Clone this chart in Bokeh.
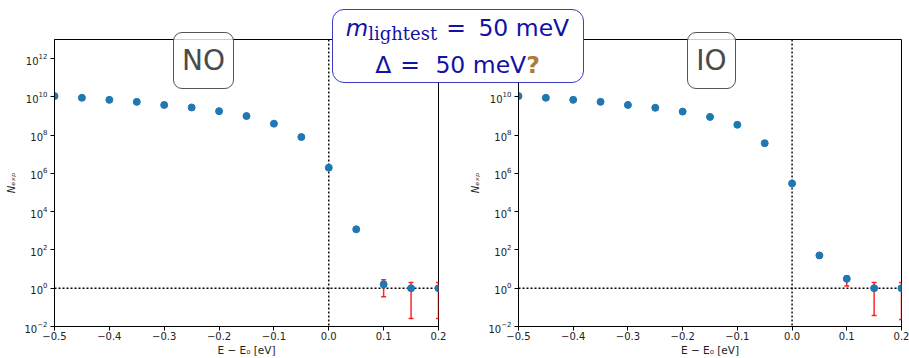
from bokeh.plotting import figure
from bokeh.models import (FixedTicker, CustomJSTickFormatter, Span, Div,
                          ColumnDataSource, Range1d)
from bokeh.layouts import row
from bokeh.embed import file_html
from bokeh.resources import INLINE

# ---------------- data ----------------
energy = [-0.5, -0.45, -0.4, -0.35, -0.3, -0.25, -0.2, -0.15, -0.1, -0.05, 0.0, 0.05, 0.1, 0.15, 0.2]
n_no = [1.1e10, 9.0e9, 7.0e9, 5.5e9, 3.8e9, 2.8e9, 1.8e9, 1.0e9, 4.0e8, 8.0e7, 2.0e6, 1.2e3, 1.6, 1.0, 1.0]
n_io = [1.1e10, 9.0e9, 7.0e9, 5.5e9, 3.8e9, 2.7e9, 1.7e9, 9.0e8, 3.5e8, 3.8e7, 3.0e5, 52.0, 3.1, 1.0, 1.0]

err_energy = [0.1, 0.15, 0.2]
no_err_low = [0.36, 0.026, 0.026]
no_err_high = [2.8, 2.0, 2.0]
io_err_low = [1.3, 0.038, 0.023]
io_err_high = [4.4, 2.0, 2.0]

x_ticks = [-0.5, -0.4, -0.3, -0.2, -0.1, 0.0, 0.1, 0.2]
y_ticks = [1e-2, 1e0, 1e2, 1e4, 1e6, 1e8, 1e10, 1e12]
x_limits = (-0.5, 0.2)
y_limits = (1e-2, 1e13)
panel_names = ["NO", "IO"]
x_title = "E \u2212 E\u2080 [eV]"
y_title = "N\u2091\u2093\u209a"

BLUE = "#1f77b4"
TITLE_C = "#1212a6"
FONT = "DejaVu Sans"
H = 358
B = 460  # x where the two panel canvases meet


def make_panel(width, mbl, mbr, n_vals, lo, hi):
    p = figure(width=width, height=H, x_range=Range1d(*x_limits), y_range=Range1d(*y_limits),
               y_axis_type="log", output_backend="svg", toolbar_location=None, title=None,
               min_border_left=mbl, min_border_right=mbr, min_border_top=39, min_border_bottom=31)
    p.background_fill_color = "white"
    p.border_fill_color = "white"
    p.grid.visible = False
    p.outline_line_color = "black"
    p.outline_line_width = 1

    for ax in (p.xaxis[0], p.yaxis[0]):
        ax.axis_line_color = "black"
        ax.major_tick_line_color = "black"
        ax.major_tick_out = 4
        ax.major_tick_in = 0
        ax.minor_tick_line_color = None
        ax.major_label_text_font = FONT
        ax.major_label_text_font_size = "10px"
        ax.major_label_text_color = "#222222"
        ax.axis_label_text_font = FONT
        ax.axis_label_text_color = "#222222"
    p.xaxis.ticker = FixedTicker(ticks=x_ticks)
    p.xaxis.formatter = CustomJSTickFormatter(code="return tick.toFixed(1).replace('-', '\u2212');")
    p.xaxis.major_label_standoff = 1
    p.xaxis.axis_label = x_title
    p.xaxis.axis_label_text_font_size = "10.5px"
    p.xaxis.axis_label_text_font_style = "normal"
    p.xaxis.axis_label_standoff = 1

    p.yaxis.ticker = FixedTicker(ticks=y_ticks)
    p.yaxis.major_label_standoff = 3
    p.yaxis.axis_label = y_title
    p.yaxis.axis_label_text_font_size = "10px"
    p.yaxis.axis_label_text_font_style = "italic"
    p.yaxis.axis_label_standoff = 4

    p.add_layout(Span(location=0.0, dimension="height", line_color="black", line_width=1.4,
                      line_dash="2 2", level="underlay"))
    p.add_layout(Span(location=1.0, dimension="width", line_color="black", line_width=1.4,
                      line_dash="2 2", level="underlay"))

    es = ColumnDataSource(dict(x=err_energy, lo=lo, hi=hi))
    p.segment(x0="x", y0="lo", x1="x", y1="hi", source=es, line_color="red", line_width=1.5, line_alpha=0.85)
    p.scatter(x="x", y="lo", source=es, marker="dash", size=5, line_color="red", line_width=1.5, line_alpha=0.85)
    p.scatter(x="x", y="hi", source=es, marker="dash", size=5, line_color="red", line_width=1.5, line_alpha=0.85)

    ds = ColumnDataSource(dict(x=energy, y=n_vals))
    p.scatter(x="x", y="y", source=ds, size=7, fill_color=BLUE, line_color=BLUE)
    return p


def floating_div(html, left, top, w, h, border, radius, background):
    return Div(text=html, width=w, height=h, styles={
        "position": "absolute", "left": f"{left}px", "top": f"{top}px",
        "width": f"{w}px", "height": f"{h}px", "box-sizing": "border-box",
        "z-index": "10", "border": border, "border-radius": f"{radius}px",
        "background": background, "overflow": "hidden", "margin": "0", "padding": "0"})


left = make_panel(B, 54, B - 54 - 384, n_no, no_err_low, no_err_high)
right = make_panel(909 - B, 518 - B, 8, n_io, io_err_low, io_err_high)


def tag_html(name, inner_w):
    return (f'<div style="display:block; width:{inner_w}px; font-family:\'{FONT}\'; font-size:28px; '
            f'color:#4a4a4a; text-align:center; line-height:55px; height:55px; white-space:nowrap; '
            f'margin:0;">{name}</div>')


no_tag = floating_div(tag_html(panel_names[0], 59), 173, 32, 61, 57, "1px solid #555555", 9,
                      "rgba(255,255,255,0.8)")
io_tag = floating_div(tag_html(panel_names[1], 47), 687, 32, 49, 57, "1px solid #555555", 9,
                      "rgba(255,255,255,0.8)")

line_style = (f"display:block; width:249px; font-family:'{FONT}'; font-size:23.5px; color:{TITLE_C}; "
              "text-align:center; line-height:37px; height:37px; white-space:nowrap; margin:0;")
title_html = (
    f'<div style="{line_style}">'
    '<span style="font-style:italic; font-size:23px;">m</span>'
    '<span style="font-family:\'DejaVu Serif\'; font-size:18px; position:relative; top:4px;">lightest</span>'
    '<span style="margin:0 5px 0 9px;">=</span> 50 meV</div>'
    f'<div style="{line_style}">'
    '\u0394<span style="margin:0 8px 0 9px;">=</span> 50 meV'
    '<span style="color:#b07a38; font-weight:bold;">?</span></div>'
)
title_box = floating_div(title_html, 332, 9, 252, 74, "1.2px solid #3c3cc4", 12, "white")

layout = row(left, right, title_box, no_tag, io_tag, spacing=0)
open("out.html", "w").write(file_html(layout, INLINE))
